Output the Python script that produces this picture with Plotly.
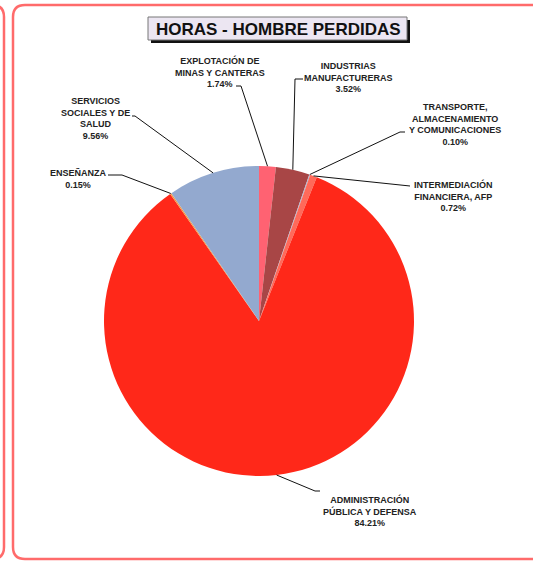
import math
import plotly.graph_objs as go

# sectores y porcentajes (en el orden de las porciones, sentido horario desde las 12)
sectores = [
    "EXPLOTACIÓN DE<br>MINAS Y CANTERAS",
    "INDUSTRIAS<br>MANUFACTURERAS",
    "TRANSPORTE,<br>ALMACENAMIENTO<br>Y COMUNICACIONES",
    "INTERMEDIACIÓN<br>FINANCIERA, AFP",
    "ADMINISTRACIÓN<br>PÚBLICA Y DEFENSA",
    "ENSEÑANZA",
    "SERVICIOS<br>SOCIALES Y DE<br>SALUD",
]
porcentajes = [1.74, 3.52, 0.10, 0.72, 84.21, 0.15, 9.56]

colores = ["#ff6272", "#a84646", "#a9b6d2", "#ff6a5a", "#ff2819", "#f29a45", "#93a9cf"]

W, H = 533, 562
CX, CY, R = 259, 321, 155
FRAME = "#ff6b6b"
FONT = "Liberation Sans, Arial, sans-serif"

# posicion de cada etiqueta: codo de la guia, fin de la guia, centro del texto
etiquetas = [
    ((241, 86), (236, 86), (220, 72)),
    ((295, 79), (303, 79), (348, 77)),
    ((400, 132), (405, 132), (455, 124)),
    ((410, 186), (410, 186), (453, 196)),
    ((315, 491), (320, 491), (370, 511)),
    ((122, 175), (108, 175), (78, 179)),
    ((135, 116), (132, 116), (95, 118)),
]

fig = go.Figure()
fig.add_trace(
    go.Pie(
        labels=[s.replace("<br>", " ") for s in sectores],
        values=porcentajes,
        sort=False,
        direction="clockwise",
        rotation=0,
        marker=dict(colors=colores, line=dict(width=0)),
        textinfo="none",
        hoverinfo="label+percent",
        showlegend=False,
        domain=dict(
            x=[(CX - R) / W, (CX + R) / W],
            y=[1 - (CY + R) / H, 1 - (CY - R) / H],
        ),
    )
)

shapes = []
annotations = []
acum = 0.0
total = sum(porcentajes)
for nombre, pct, (codo, fin, txt) in zip(sectores, porcentajes, etiquetas):
    medio = (acum + pct / 2) / total * 2 * math.pi
    acum += pct
    ex = CX + R * math.sin(medio)
    ey = CY - R * math.cos(medio)
    shapes.append(
        dict(
            type="path",
            xref="x", yref="y",
            path=f"M {ex:.1f},{ey:.1f} L {codo[0]},{codo[1]} L {fin[0]},{fin[1]}",
            line=dict(color="#111111", width=1),
        )
    )
    annotations.append(
        dict(
            x=txt[0], y=txt[1], xref="x", yref="y",
            text=f"{nombre}<br>{pct:.2f}%",
            showarrow=False,
            align="center",
            font=dict(family=FONT, size=9, color="#222222", weight="bold"),
        )
    )

# marco principal redondeado (abierto a la derecha) y borde del panel vecino
shapes.append(
    dict(
        type="path", xref="x", yref="y",
        path="M 540,5 L 25,5 Q 13,5 13,17 L 13,547 Q 13,559 25,559 L 540,559",
        line=dict(color=FRAME, width=2.5),
    )
)
shapes.append(
    dict(
        type="path", xref="x", yref="y",
        path="M -8,5 Q 4,5 4,17 L 4,547 Q 4,559 -8,559",
        line=dict(color=FRAME, width=2.5),
    )
)

# caja del titulo con sombra
shapes.append(
    dict(type="rect", xref="x", yref="y", x0=151, y0=20, x1=410, y1=43,
         fillcolor="#111111", line=dict(width=0))
)
shapes.append(
    dict(type="rect", xref="x", yref="y", x0=148, y0=17, x1=407, y1=40,
         fillcolor="#ece6f2", line=dict(color="#777777", width=1))
)
annotations.append(
    dict(
        x=278, y=29, xref="x", yref="y",
        text="HORAS - HOMBRE PERDIDAS",
        showarrow=False,
        font=dict(family=FONT, size=17, color="#111111", weight="bold"),
    )
)

fig.update_layout(
    width=W,
    height=H,
    margin=dict(l=0, r=0, t=0, b=0),
    paper_bgcolor="white",
    plot_bgcolor="rgba(0,0,0,0)",
    xaxis=dict(range=[0, W], visible=False, fixedrange=True, domain=[0, 1]),
    yaxis=dict(range=[H, 0], visible=False, fixedrange=True, domain=[0, 1]),
    shapes=shapes,
    annotations=annotations,
)

# sin margen del body para que la figura ocupe la ventana entera
fig.write_html(
    "out.html",
    config={"displayModeBar": False},
    post_script="document.body.style.margin='0';"
    "document.documentElement.style.overflow='hidden';",
)
